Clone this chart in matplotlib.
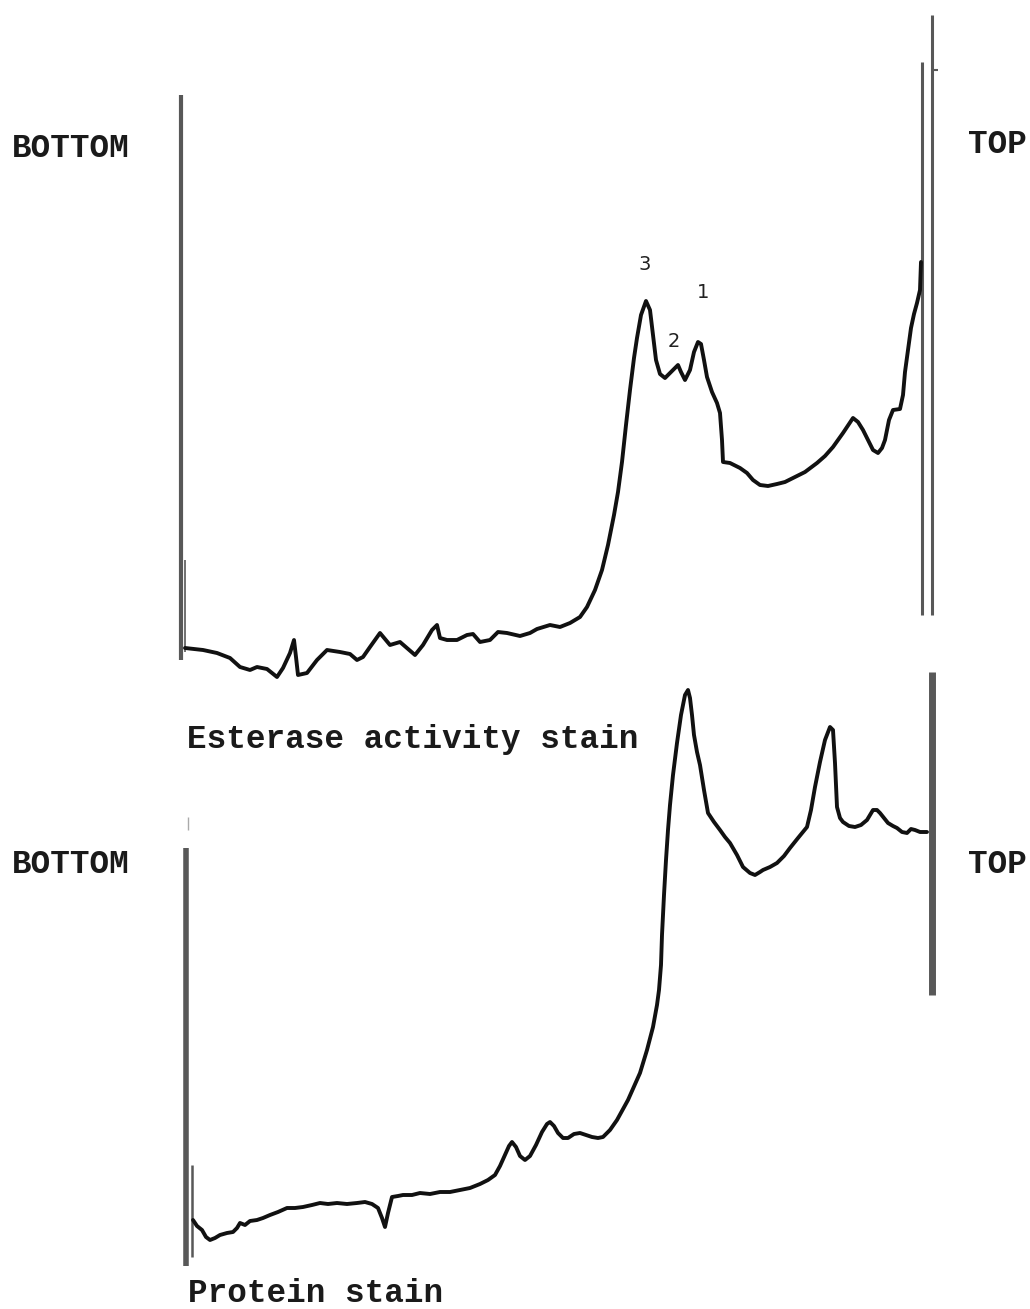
import matplotlib
matplotlib.use('Agg')
import matplotlib.pyplot as plt

# Densitometer scans (position along gel, pen deflection)
esterase_pos = [185, 203, 217, 230, 240, 250, 257, 267, 277, 283, 290, 294, 296, 298,
                307, 317, 327, 340, 350, 357, 363, 370, 380, 390, 400, 415, 423, 432,
                437, 440, 447, 457, 467, 473, 480, 490, 498, 507, 520, 530, 537, 550,
                560, 570, 580, 587, 595, 602, 608, 614, 618, 622, 626, 630, 634, 637, 641,
                646, 650, 653, 656, 660, 665, 670, 675, 678, 681, 685, 690, 694, 698,
                701, 704, 707, 712, 717, 720, 722, 723, 730, 740, 747, 753, 760, 768,
                777, 785, 793, 805, 817, 825, 833, 843, 853, 858, 863, 868, 873, 878,
                882, 885, 889, 893, 900, 903, 905, 908, 911, 914, 917, 920, 921]
esterase_val = [648, 650, 653, 658, 667, 670, 667, 669, 677, 668, 653, 640, 657, 675,
                673, 660, 650, 652, 654, 660, 657, 647, 633, 645, 642, 655, 645, 630,
                625, 638, 640, 640, 635, 634, 642, 640, 632, 633, 636, 633, 629, 625,
                627, 623, 617, 607, 590, 570, 545, 515, 492, 462, 425, 390, 358, 338, 315,
                301, 310, 335, 360, 374, 378, 373, 368, 365, 372, 380, 370, 352, 342,
                344, 360, 377, 392, 403, 413, 440, 462, 463, 468, 473, 480, 485, 486,
                484, 482, 478, 472, 463, 456, 447, 433, 418, 422, 430, 440, 450, 453,
                448, 440, 420, 410, 409, 395, 372, 350, 328, 314, 303, 290, 262]

protein_pos = [193, 197, 202, 206, 210, 215, 220, 227, 233, 237, 240, 245, 250, 257,
               263, 270, 278, 287, 295, 303, 312, 320, 328, 337, 347, 357, 365, 372,
               378, 382, 385, 388, 392, 398, 403, 412, 420, 430, 440, 450, 460, 470,
               480, 488, 495, 500, 505, 509, 512, 516, 520, 525, 530, 536, 542, 547,
               550, 554, 558, 563, 568, 574, 580, 586, 592, 598, 603, 610, 617, 628,
               640, 647, 653, 657, 659, 661, 662, 664, 666, 668, 670, 673, 677, 681, 685,
               688, 690, 692, 694, 697, 700, 704, 708, 714, 720, 725, 730, 737, 743, 750,
               755, 760, 763, 770, 777, 784, 790, 798, 807, 811, 815, 820, 825, 830,
               833, 835, 837, 840, 843, 849, 855, 861, 867, 873, 877, 880, 884, 888,
               893, 897, 902, 907, 911, 915, 920, 927]
protein_val = [1220, 1226, 1230, 1237, 1240, 1238, 1235, 1233, 1232, 1228, 1223, 1225,
               1221, 1220, 1218, 1215, 1212, 1208, 1208, 1207, 1205, 1203, 1204, 1203,
               1204, 1203, 1202, 1204, 1208, 1218, 1227, 1213, 1197, 1196, 1195, 1195,
               1193, 1194, 1192, 1192, 1190, 1188, 1184, 1180, 1175, 1166, 1155, 1146,
               1142, 1147, 1156, 1160, 1156, 1145, 1132, 1124, 1122, 1126, 1133, 1138,
               1138, 1134, 1133, 1135, 1137, 1138, 1137, 1130, 1120, 1100, 1073, 1050,
               1027, 1005, 990, 965, 935, 895, 860, 830, 805, 775, 743, 715, 695, 690,
               698, 715, 735, 752, 765, 790, 813, 822, 830, 837, 843, 855, 867, 873, 875,
               872, 870, 867, 863, 856, 848, 838, 827, 810, 787, 762, 740, 727, 730, 763,
               807, 818, 822, 826, 827, 825, 820, 810, 810, 813, 818, 823, 826, 828,
               832, 833, 829, 830, 832, 832]

# start / end marker pen strokes: position, top, bottom, width
marker_pos = [181, 185, 922, 932, 186, 192, 932]
marker_top = [95, 560, 62, 15, 848, 1165, 672]
marker_bot = [660, 652, 615, 615, 1266, 1257, 995]
marker_lw = [3.0, 1.2, 2.2, 2.2, 4.0, 1.8, 5.0]

peak_labels = ['3', '2', '1']
peak_label_pos = [(645, 270), (674, 347), (703, 298)]

plt.rcParams['font.family'] = ['Liberation Mono', 'DejaVu Sans Mono']

fig = plt.figure(figsize=(10.3, 13.09), dpi=100)
ax = fig.add_axes([0, 0, 1, 1])
ax.set_xlim(0, 1030)
ax.set_ylim(1309, 0)
ax.axis('off')

for x, t, b, lw in zip(marker_pos, marker_top, marker_bot, marker_lw):
    ax.vlines(x, t, b, color='#585858', linewidth=lw)
ax.hlines(70, 932, 938, color='#585858', linewidth=1.5)
ax.vlines(188, 817, 830, color='#aaaaaa', linewidth=1.0)

ax.plot(esterase_pos, esterase_val, color='#111111', linewidth=2.8,
        solid_joinstyle='round', solid_capstyle='round')
ax.plot(protein_pos, protein_val, color='#111111', linewidth=2.8,
        solid_joinstyle='round', solid_capstyle='round')

for lab, (x, y) in zip(peak_labels, peak_label_pos):
    ax.text(x, y, lab, fontsize=14, family='DejaVu Sans', color='#222222',
            ha='center', va='baseline')

tkw = dict(fontsize=23.5, fontweight='bold', color='#1a1a1a', va='baseline')
ax.text(12, 157, 'BOTTOM', **tkw)
ax.text(968, 153, 'TOP', **tkw)
ax.text(12, 873, 'BOTTOM', **tkw)
ax.text(968, 873, 'TOP', **tkw)
ax.text(187, 748, 'Esterase activity stain', **tkw)
ax.text(188, 1302, 'Protein stain', **tkw)

fig.savefig('out.png', dpi=100)
